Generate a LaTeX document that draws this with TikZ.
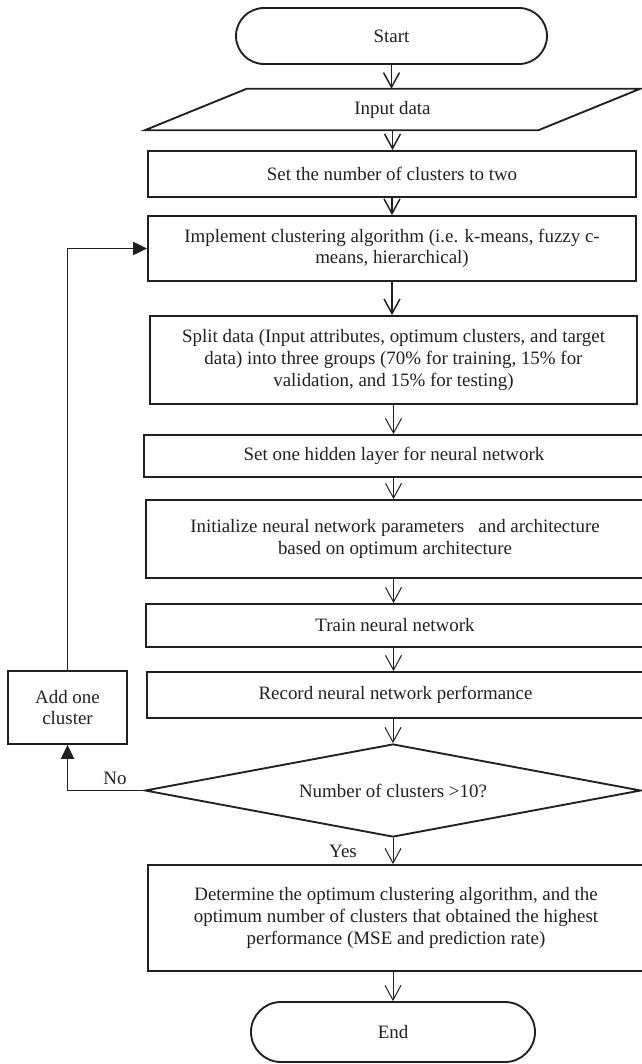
\documentclass[tikz,border=0pt]{standalone}
\usepackage{fontspec}
\setmainfont{Liberation Serif}
\usetikzlibrary{arrows.meta,shapes.geometric}
\definecolor{ink}{HTML}{231F20}
\begin{document}
\begin{tikzpicture}[x=0.75pt,y=-0.75pt,
  txt/.style={font=\fontsize{14.2}{16.2}\selectfont, text=ink},
  box/.style={txt, draw=ink, line width=1.4pt, rectangle, align=center, inner sep=0pt},
  term/.style={box, rounded corners=21pt},
  decision/.style={txt, draw=ink, line width=1.4pt, diamond, aspect=5.33, inner sep=0pt},
  flow/.style={draw=ink, line width=1.1pt, -{Straight Barb[length=11pt,width=12pt]}},
  thinflow/.style={draw=ink, line width=0.75pt, -{Straight Barb[length=11pt,width=12pt]}},
  back/.style={draw=ink, line width=0.75pt, -{Triangle[length=10.5pt,width=10pt]}},
  lbl/.style={txt, inner sep=0pt}
]
\useasboundingbox (0,0) rectangle (642,1064);

% main column of steps
\node[term, minimum width=233.25pt, minimum height=42pt] (start) at (391.5,36) {Start};

\node[lbl, minimum width=294.75pt, minimum height=30.75pt] (input) at (392.5,109.5) {Input data};
\draw[draw=ink, line width=1.4pt]
  ([xshift=38.25pt]input.north west) -- ([xshift=38.25pt]input.north east)
  -- ([xshift=-38.25pt]input.south east) -- ([xshift=-38.25pt]input.south west) -- cycle;

\node[box, minimum width=366pt, minimum height=34.5pt] (set) at (392,174)
  {Set the number of clusters to two};
\node[box, minimum width=366pt, minimum height=48.75pt] (impl) at (392,248.5)
  {Implement clustering algorithm (i.e. k-means, fuzzy c-\\means, hierarchical)};
\node[box, minimum width=365.25pt, minimum height=66pt] (split) at (393.5,360)
  {Split data (Input attributes, optimum clusters, and target\\data) into three groups (70\% for training, 15\% for\\validation, and 15\% for testing)};
\node[box, minimum width=375pt, minimum height=31.5pt] (hidden) at (394,456)
  {Set one hidden layer for neural network};
\node[box, minimum width=373.5pt, minimum height=58.5pt] (init) at (395,539)
  {Initialize neural network parameters \ \ and architecture\\based on optimum architecture};
\node[box, minimum width=373.5pt, minimum height=32.25pt] (train) at (395,625.5)
  {Train neural network};
\node[box, minimum width=372.75pt, minimum height=34.5pt] (record) at (395.5,695)
  {Record neural network performance};
\node[decision, minimum width=372pt, minimum height=69.75pt] (dec) at (393,790.5)
  {Number of clusters >10?};
\node[box, minimum width=372pt, minimum height=79.5pt] (det) at (396,918)
  {Determine the optimum clustering algorithm, and the\\optimum number of clusters that obtained the highest\\performance (MSE and prediction rate)};
\node[term, minimum width=213pt, minimum height=45pt, rounded corners=22.5pt] (endn) at (393,1032) {End};

% side step of the loop
\node[box, minimum width=89.25pt, minimum height=54.75pt] (add) at (67.5,707.5) {Add one\\cluster};

% connectors down the column
\draw[flow] (start.south) -- (start.south |- input.north);
\draw[flow] (input.south) -- (input.south |- set.north);
\draw[flow] (set.south) -- (set.south |- impl.north);
\draw[flow] (impl.south) -- (impl.south |- split.north);
\draw[thinflow] (split.south) -- (split.south |- hidden.north);
\draw[thinflow] (hidden.south -| split.south) -- (split.south |- init.north);
\draw[thinflow] (init.south -| split.south) -- (split.south |- train.north);
\draw[thinflow] (train.south -| split.south) -- (split.south |- record.north);
\draw[thinflow] (record.south -| dec.north) -- (dec.north);
\draw[thinflow] (dec.south) -- (dec.south |- det.north);
\draw[thinflow] (det.south -| endn.north) -- (endn.north);

% the "No" branch and the loop back
\draw[back] (dec.west) -- (dec.west -| add.south) -- (add.south);
\draw[back] (add.north) -- (add.north |- impl.west) -- (impl.west);

\node[lbl] (no) at (115,778) {No};
\node[lbl] (yes) at (343,851) {Yes};
\end{tikzpicture}
\end{document}
